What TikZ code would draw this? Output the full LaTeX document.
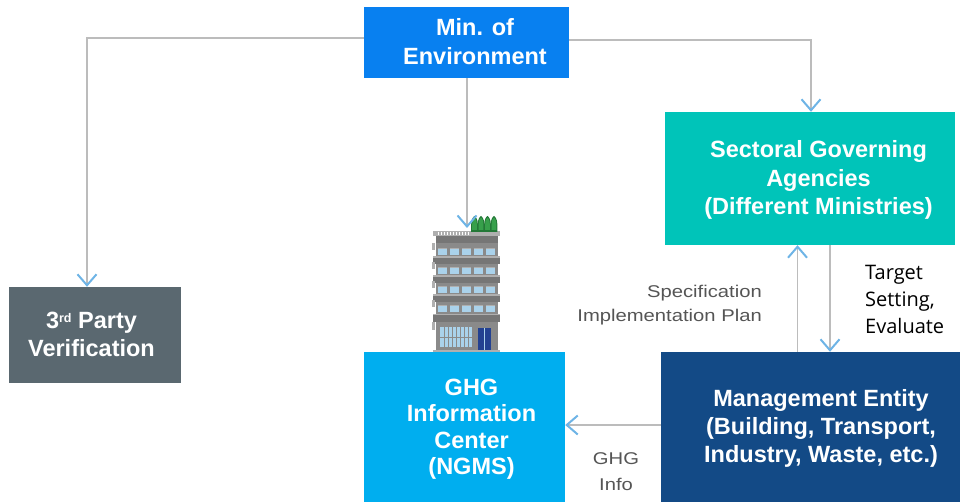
\documentclass[tikz,border=0pt]{standalone}
\usepackage{fontspec}
\setmainfont{Liberation Sans}
\newfontfamily\lblfont[FakeStretch=1.19]{Liberation Sans}
\newfontfamily\tgtfont{Open Sans}
\usetikzlibrary{arrows.meta}

\definecolor{minblue}{RGB}{8,128,240}
\definecolor{thirdgray}{RGB}{90,104,112}
\definecolor{sectteal}{RGB}{0,196,185}
\definecolor{ghgblue}{RGB}{0,174,239}
\definecolor{mgmtblue}{RGB}{19,74,134}
\definecolor{tipblue}{RGB}{110,180,230}
\definecolor{linegray}{RGB}{188,188,188}
\definecolor{labelgray}{RGB}{85,85,85}
\definecolor{bldggray}{RGB}{138,138,138}
\definecolor{banddark}{RGB}{118,118,118}
\definecolor{bandlight}{RGB}{175,175,175}
\definecolor{winblue}{RGB}{170,210,235}
\definecolor{doorblue}{RGB}{35,65,145}
\definecolor{treegreen}{RGB}{55,160,75}
\definecolor{treedark}{RGB}{35,120,55}

\newcommand{\ordsup}[1]{\raisebox{6pt}{\fontsize{12.5}{12.5}\selectfont #1}}

\tikzset{
  box/.style={draw=none, inner sep=0pt, rectangle},
  boxtext/.style={inner sep=0pt, align=center, text=white,
    font=\fontsize{23.5}{28}\selectfont\bfseries},
  conn/.style={draw=linegray, line width=1.4pt,
    -{Straight Barb[color=tipblue, length=11pt, width=19pt, line width=2pt]}},
  graylabel/.style={inner sep=0pt, text=labelgray,
    font=\lblfont\fontsize{17}{24}\selectfont},
}

\begin{document}
\begin{tikzpicture}[x=1pt, y=-1pt]
\useasboundingbox (0,0) rectangle (960,502);

% boxes
\node[box, fill=minblue, minimum width=205pt, minimum height=71pt] (min) at (466.5,42.5) {};
\node[boxtext, font=\fontsize{23.5}{29}\selectfont\bfseries] (mintxt) at (475,42) {Min. of\\Environment};

\node[box, fill=thirdgray, minimum width=172pt, minimum height=96pt] (third) at (95,335) {};
\node[boxtext, font=\fontsize{23.5}{27.5}\selectfont\bfseries] (thirdtxt) at (91.5,334.3) {3\ordsup{rd} Party\\Verification};

\node[box, fill=sectteal, minimum width=290pt, minimum height=133pt] (sect) at (810,178.5) {};
\node[boxtext, font=\fontsize{23.5}{28.5}\selectfont\bfseries] (secttxt) at (818.5,180.3) {Sectoral Governing\\Agencies\\(Different Ministries)};

\node[box, fill=ghgblue, minimum width=201pt, minimum height=150pt] (ghg) at (464.5,427) {};
\node[boxtext, font=\fontsize{23.5}{26.5}\selectfont\bfseries] (ghgtxt) at (471.5,429.3) {GHG\\Information\\Center\\(NGMS)};

\node[box, fill=mgmtblue, minimum width=299pt, minimum height=150pt] (mgmt) at (810.5,427) {};
\node[boxtext] (mgmttxt) at (821,428.7) {Management Entity\\(Building, Transport,\\Industry, Waste, etc.)};

% building
\begin{scope}
  \fill[bldggray] (436,235) rectangle (498,352);
  \fill[bandlight] (433,231.5) rectangle (500,236);
  \foreach \tx in {438,441,...,470} \draw[white, line width=0.5pt] (\tx,232) -- (\tx,235.5);
  \foreach \tx in {474.5,481,487.5,494} {
    \fill[treedark] (\tx-3.3,232) -- (\tx-3.3,224) .. controls (\tx-3.3,219) and (\tx-1,216.5) .. (\tx,216) .. controls (\tx+1,216.5) and (\tx+3.3,219) .. (\tx+3.3,224) -- (\tx+3.3,232) -- cycle;
    \fill[treegreen] (\tx-2.3,230) -- (\tx-2.3,224) .. controls (\tx-2.3,220) and (\tx-0.8,218) .. (\tx,217.5) .. controls (\tx+0.8,218) and (\tx+2.3,220) .. (\tx+2.3,224) -- (\tx+2.3,230) -- cycle;
  }
  \fill[banddark] (436,236) rectangle (498,243);
  \foreach \fy in {0,19,38,57} {
    \fill[bandlight] (432,243+\fy) rectangle (435,250+\fy);
    \foreach \wx in {438,450,462,474,486} {
      \fill[winblue] (\wx,249+\fy) rectangle (\wx+8.5,255+\fy);
      \fill[bandlight] (\wx,248+\fy) rectangle (\wx+8.5,249+\fy);
    }
    \fill[bandlight] (433,256.5+\fy) rectangle (500,258+\fy);
    \fill[banddark] (433,258+\fy) rectangle (500,264.5+\fy);
  }
  \fill[bandlight] (432,322) rectangle (435,330);
  \fill[winblue] (440,327) rectangle (472,347);
  \foreach \gx in {444,448,...,468} \draw[bldggray, line width=0.8pt] (\gx,327) -- (\gx,347);
  \draw[bldggray, line width=1pt] (440,337) -- (472,337);
  \fill[doorblue] (478,327.5) rectangle (491,350);
  \draw[winblue, line width=0.5pt] (484.5,328) -- (484.5,350);
  \fill[bandlight] (433,349.5) rectangle (500,352);
  \coordinate (bldgtop) at (467,228);
\end{scope}

% connectors
\draw[conn] ([yshift=4.5pt]min.west) -| ([xshift=-8pt]third.north);
\draw[conn] ([yshift=2.5pt]min.east) -| ([xshift=1pt]sect.north);
\draw[conn] (min.south -| bldgtop) -- (bldgtop);
\draw[conn] ([xshift=-13pt]mgmt.north) -- ([xshift=-13pt]mgmt.north |- sect.south);
\draw[conn] ([xshift=20pt]sect.south) -- ([xshift=20pt]sect.south |- mgmt.north);
\draw[conn] ([yshift=2pt]mgmt.west) -- ([yshift=2pt]mgmt.west -| ghg.east);

% labels
\node[graylabel, align=right, anchor=east] (speclbl) at (762,305.6) {Specification\\Implementation Plan};
\node[inner sep=0pt, align=left, anchor=west, font=\tgtfont\fontsize{20}{27}\selectfont] (tgtlbl) at (865,299.2) {Target\\Setting,\\Evaluate};
\node[graylabel, align=center, font=\lblfont\fontsize{17}{25.7}\selectfont] (infolbl) at (616,471.6) {GHG\\Info};
\end{tikzpicture}
\end{document}
